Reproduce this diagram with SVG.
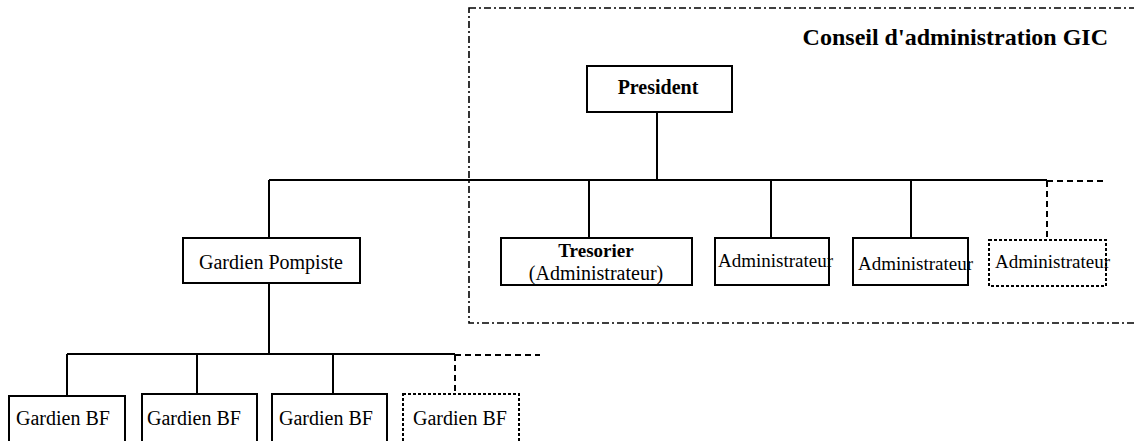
<svg xmlns="http://www.w3.org/2000/svg" width="1134" height="441" viewBox="0 0 1134 441" font-family="'Liberation Serif', 'Times New Roman', Times, 'DejaVu Serif', serif">
<style>
text{font-family:'Liberation Serif','Times New Roman',Times,'DejaVu Serif',serif;fill:#000}
.b{font-weight:bold}
.box{fill:#fff;stroke:#000;stroke-width:2}
.dbox{fill:#fff;stroke:#000;stroke-width:2;stroke-dasharray:3 2}
.ln{fill:none;stroke:#000;stroke-width:2}
.dl{fill:none;stroke:#000;stroke-width:2;stroke-dasharray:6 4}
.frame{fill:none;stroke:#000;stroke-width:1.6;stroke-dasharray:7 3 2 3}
</style>
<rect width="1134" height="441" fill="#fff"/>
<g id="conseil">
<rect class="frame" x="469" y="8" width="700" height="315"/>
<text class="b" x="1108" y="45" font-size="24" text-anchor="end">Conseil d'administration GIC</text>
</g>
<g id="connectors">
<path class="ln" d="M657 112V180M269 180H1047M269 180V238M589 180V238M771 180V238M911 180V238"/>
<path class="dl" d="M1047 181H1103M1047 181V239"/>
<path class="ln" d="M269 283V354M67 354H455M67 354V396M197 354V394M333 354V394"/>
<path class="dl" d="M455 355H540M455 355V394"/>
</g>
<g id="president">
<rect class="box" x="587" y="66" width="145" height="46"/>
<text class="b" x="658" y="94" font-size="20" text-anchor="middle">President</text>
</g>
<g id="tresorier">
<rect class="box" x="501" y="238" width="191" height="47"/>
<text class="b" x="596" y="257" font-size="19" text-anchor="middle">Tresorier</text>
<text x="596" y="280" font-size="20" text-anchor="middle">(Administrateur)</text>
</g>
<g id="admin1">
<rect class="box" x="715" y="238" width="114" height="47"/>
<text x="718" y="267" font-size="19">Administrateur</text>
</g>
<g id="admin2">
<rect class="box" x="853" y="238" width="115" height="47"/>
<text x="858" y="270" font-size="19">Administrateur</text>
</g>
<g id="admin3">
<rect class="dbox" x="989" y="240" width="117" height="46"/>
<text x="995" y="268" font-size="19">Administrateur</text>
</g>
<g id="gardien-pompiste">
<rect class="box" x="183" y="238" width="177" height="45"/>
<text x="199" y="269" font-size="20">Gardien Pompiste</text>
</g>
<g id="gardien-bf-1">
<rect class="box" x="9" y="396" width="116" height="60"/>
<text x="16" y="425" font-size="20">Gardien BF</text>
</g>
<g id="gardien-bf-2">
<rect class="box" x="142" y="394" width="115" height="60"/>
<text x="147" y="425" font-size="20">Gardien BF</text>
</g>
<g id="gardien-bf-3">
<rect class="box" x="272" y="394" width="115" height="60"/>
<text x="279" y="425" font-size="20">Gardien BF</text>
</g>
<g id="gardien-bf-4">
<rect class="dbox" x="403" y="394" width="116" height="60"/>
<text x="413" y="425" font-size="20">Gardien BF</text>
</g>
</svg>
